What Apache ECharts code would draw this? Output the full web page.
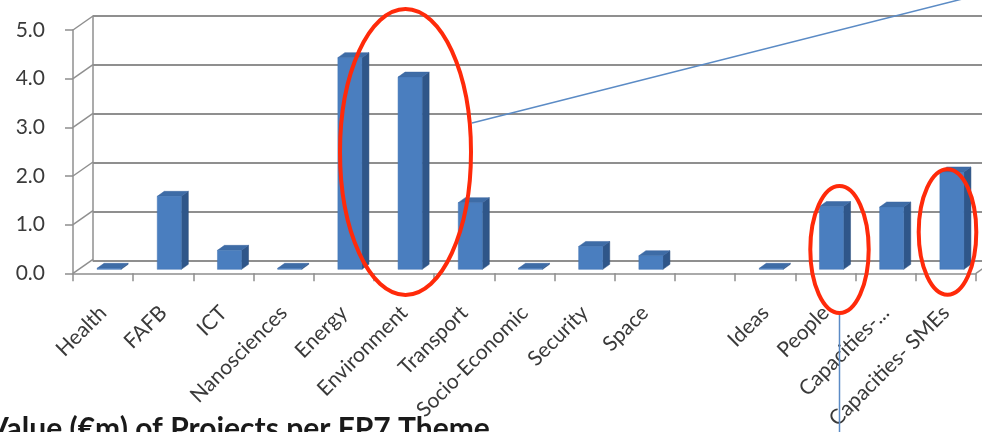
<!DOCTYPE html>
<html><head><meta charset="utf-8">
<script src="https://cdn.jsdelivr.net/npm/echarts@6/dist/echarts.min.js"></script>
<style>html,body{margin:0;padding:0;background:#fff}#c{width:982px;height:432px}</style>
</head><body><div id="c"></div>
<script>
const categories = ['Health','FAFB','ICT','Nanosciences','Energy','Environment','Transport','Socio-Economic','Security','Space','','Ideas','People','Capacities-...','Capacities- SMEs'];
const values = [0.02, 1.5, 0.39, 0.02, 4.35, 3.95, 1.37, 0.02, 0.47, 0.28, null, 0.02, 1.29, 1.28, 2.0];
const yTicks = [0, 1, 2, 3, 4, 5];
const titleText = 'Value (€m) of Projects per FP7 Theme';

const FONT = 'Lato, "Open Sans", sans-serif';
const GRID_COLOR = '#8f8f8f';
const barData = [];
values.forEach((v, i) => { if (v !== null) barData.push([i, v]); });

const chart = echarts.init(document.getElementById('c'), null, {renderer: 'canvas'});
chart.setOption({
  animation: false,
  backgroundColor: '#ffffff',
  grid: [
    {left: 73, right: 6, top: 30, height: 245},   // front plane (axes)
    {left: 93, right: 0, top: 16, height: 245}    // back wall
  ],
  xAxis: [
    {
      type: 'category', gridIndex: 0, data: categories, boundaryGap: true,
      axisLine: {lineStyle: {color: GRID_COLOR, width: 1.5}},
      axisTick: {show: true, length: 8, lineStyle: {color: GRID_COLOR, width: 1.5}},
      axisLabel: {rotate: 45, margin: 36, interval: 0, color: '#3a3a3a', fontSize: 21, fontFamily: FONT}
    },
    {type: 'category', gridIndex: 1, data: categories, show: false}
  ],
  yAxis: [
    {
      type: 'value', gridIndex: 0, min: 0, max: 5, interval: 1,
      axisLine: {show: true, lineStyle: {color: GRID_COLOR, width: 1.5}},
      axisTick: {show: true, length: 8, lineStyle: {color: GRID_COLOR, width: 1.5}},
      axisLabel: {margin: 28, color: '#3a3a3a', fontSize: 21, fontFamily: FONT,
        formatter: v => v.toFixed(1)},
      splitLine: {show: false}
    },
    {
      type: 'value', gridIndex: 1, min: 0, max: 5, interval: 1,
      axisLine: {show: true, lineStyle: {color: GRID_COLOR, width: 1.5}},
      axisTick: {show: false}, axisLabel: {show: false},
      splitLine: {show: true, lineStyle: {color: GRID_COLOR, width: 2}}
    }
  ],
  series: [
    {
      // diagonal connectors between front axis and back wall
      type: 'custom', xAxisIndex: 0, yAxisIndex: 0, silent: true, z: 1,
      data: yTicks.map(v => [0, v]),
      renderItem: function (params, api) {
        const v = api.value(1);
        const p = api.coord([0, v]);
        const cs = params.coordSys;
        const children = [{
          type: 'line',
          shape: {x1: cs.x, y1: p[1], x2: cs.x + 20, y2: p[1] - 14},
          style: {stroke: GRID_COLOR, lineWidth: 1.5}
        }];
        if (v === 0) {
          children.push({
            type: 'line',
            shape: {x1: cs.x + cs.width, y1: p[1], x2: cs.x + cs.width + 20, y2: p[1] - 14},
            style: {stroke: GRID_COLOR, lineWidth: 1.5}
          });
        }
        return {type: 'group', children: children};
      }
    },
    {
      type: 'custom', xAxisIndex: 0, yAxisIndex: 0, z: 5,
      data: barData,
      renderItem: function (params, api) {
        const i = api.value(0), v = api.value(1);
        const base = api.coord([i, 0]);
        const top = api.coord([i, v]);
        const w = api.size([1, 0])[0] * 0.4;
        const ox = 6, oy = -4, dx = 7, dy = -5;
        const x0 = base[0] - w / 2 + ox, x1 = x0 + w;
        const yb = base[1] + oy, yt = Math.min(top[1] + oy, yb - 1);
        return {
          type: 'group',
          children: [
            {type: 'polygon', shape: {points: [[x1, yb], [x1 + dx, yb + dy], [x1 + dx, yt + dy], [x1, yt]]},
             style: {fill: '#2f5689', stroke: '#2a4e7c', lineWidth: 0.5}},
            {type: 'polygon', shape: {points: [[x0, yt], [x0 + dx, yt + dy], [x1 + dx, yt + dy], [x1, yt]]},
             style: {fill: '#3e6ca6', stroke: '#3a65a0', lineWidth: 0.5}},
            {type: 'rect', shape: {x: x0, y: yt, width: w, height: yb - yt},
             style: {fill: '#4a7ebf', stroke: '#4275b3', lineWidth: 0.5}}
          ]
        };
      }
    }
  ],
  graphic: [
    {type: 'line', z: 50, shape: {x1: 472, y1: 123, x2: 990, y2: -8},
     style: {stroke: '#5b8bc5', lineWidth: 1.5}},
    {type: 'line', z: 50, shape: {x1: 839.5, y1: 314, x2: 839.5, y2: 432},
     style: {stroke: '#5b8bc5', lineWidth: 1.5}},
    {type: 'ellipse', z: 60, shape: {cx: 405.5, cy: 152, rx: 65.5, ry: 143},
     style: {fill: null, stroke: '#ff2a0a', lineWidth: 4}},
    {type: 'ellipse', z: 60, shape: {cx: 839.5, cy: 249.5, rx: 29.2, ry: 63.5},
     style: {fill: null, stroke: '#ff2a0a', lineWidth: 4}},
    {type: 'ellipse', z: 60, shape: {cx: 947.5, cy: 232, rx: 28.8, ry: 62.7},
     style: {fill: null, stroke: '#ff2a0a', lineWidth: 4}},
    {type: 'text', z: 40, left: -12, top: 414,
     style: {text: titleText, fill: '#1a1a1a', font: 'bold 30px ' + FONT}}
  ]
});
</script>
</body></html>
